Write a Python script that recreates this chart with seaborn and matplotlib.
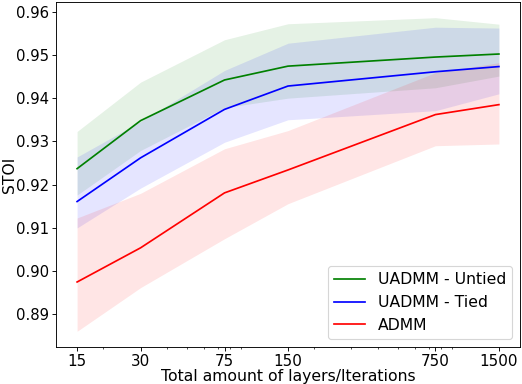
import matplotlib
matplotlib.use("Agg")
import matplotlib.pyplot as plt
import matplotlib.ticker as mticker
import seaborn as sns
import pandas as pd

iterations = [15, 30, 75, 150, 750, 1500]
tick_labels = ["15", "30", "75", "150", "750", "1500"]

untied_mean = [0.9237, 0.9348, 0.9442, 0.9474, 0.9495, 0.9502]
untied_low = [0.9176, 0.9279, 0.9378, 0.9400, 0.9424, 0.9451]
untied_high = [0.9323, 0.9437, 0.9535, 0.9572, 0.9586, 0.9571]

tied_mean = [0.9161, 0.9262, 0.9374, 0.9428, 0.9461, 0.9473]
tied_low = [0.9100, 0.9192, 0.9298, 0.9350, 0.9371, 0.9410]
tied_high = [0.9264, 0.9346, 0.9464, 0.9527, 0.9564, 0.9562]

admm_mean = [0.8975, 0.9054, 0.9181, 0.9234, 0.9362, 0.9385]
admm_low = [0.8861, 0.8962, 0.9075, 0.9156, 0.9290, 0.9294]
admm_high = [0.9123, 0.9180, 0.9283, 0.9325, 0.9459, 0.9482]

series = [
    ("UADMM - Untied", "green", untied_mean, untied_low, untied_high),
    ("UADMM - Tied", "blue", tied_mean, tied_low, tied_high),
    ("ADMM", "red", admm_mean, admm_low, admm_high),
]

DPI = 81.6
plt.rcParams["font.family"] = ["DejaVu Sans"]
plt.rcParams["font.size"] = 13.8
plt.rcParams["xtick.labelsize"] = 13.4
plt.rcParams["ytick.labelsize"] = 13.2
plt.rcParams["xtick.major.pad"] = 2.5
plt.rcParams["ytick.major.pad"] = 2.5

fig = plt.figure(figsize=(522 / DPI, 384 / DPI), dpi=DPI)
ax = fig.add_axes([56 / 522, 1 - 347 / 384, (520 - 56) / 522, (347 - 2) / 384])

for name, color, mean, low, high in series:
    df = pd.DataFrame({"x": iterations, "y": mean})
    sns.lineplot(data=df, x="x", y="y", color=color, label=name, ax=ax, linewidth=1.5)
    ax.fill_between(iterations, low, high, color=color, alpha=0.1, linewidth=0)

ax.set_xscale("log")
ax.set_xticks(iterations)
ax.set_xticklabels(tick_labels)
ax.xaxis.set_minor_formatter(mticker.NullFormatter())
ax.yaxis.set_major_formatter(mticker.FormatStrFormatter("%.2f"))
ax.set_xlabel("Total amount of layers/Iterations", labelpad=0.5)
ax.set_ylabel("STOI")
ax.yaxis.set_label_coords(-0.085, 0.5)
ax.legend(loc="lower right")

fig.savefig("out.png", dpi=DPI)
